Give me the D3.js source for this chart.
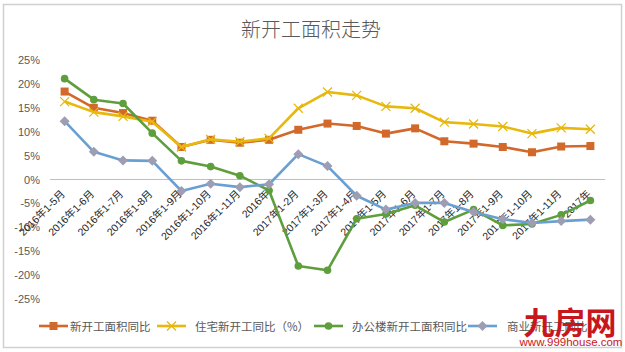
<!DOCTYPE html>
<html><head><meta charset="utf-8">
<script src="https://cdn.jsdelivr.net/npm/d3@7"></script>
<style>
body{margin:0;background:#fff;}
svg{display:block;}
text{font-family:"Liberation Sans","Noto Sans CJK SC",sans-serif;}
</style></head>
<body>
<svg id="chart" width="625" height="352"></svg>
<script>
const categories = ["2016年1-5月","2016年1-6月","2016年1-7月","2016年1-8月","2016年1-9月","2016年1-10月","2016年1-11月","2016年",
  "2017年1-2月","2017年1-3月","2017年1-4月","2017年1-5月","2017年1-6月","2017年1-7月","2017年1-8月","2017年1-9月","2017年1-10月","2017年1-11月","2017年"];
const newStart     = [18.4,15.0,13.9,12.3,6.8,8.3,7.7,8.3,10.4,11.7,11.2,9.6,10.7,8.0,7.5,6.8,5.7,6.9,7.0];
const residential  = [16.3,14.1,13.2,12.1,6.8,8.4,7.9,8.6,14.9,18.3,17.6,15.3,14.9,12.0,11.6,11.1,9.6,10.8,10.5];
const office       = [21.1,16.7,15.9,9.7,3.9,2.7,0.8,-2.3,-18.1,-19.0,-8.2,-7.2,-5.4,-8.9,-6.3,-9.6,-9.3,-7.4,-4.4];
const commercial   = [12.2,5.8,4.0,3.9,-2.4,-0.9,-1.6,-1.0,5.3,2.8,-3.4,-6.3,-4.9,-4.9,-6.8,-8.3,-9.1,-8.7,-8.4];
const yTicks = [25,20,15,10,5,0,-5,-10,-15,-20,-25];
const seriesNames = ["新开工面积同比","住宅新开工同比（%）","办公楼新开工面积同比","商业新开工同比"];
const title = "新开工面积走势";

const series = [
  {name:seriesNames[0], values:newStart, color:"#D2692A", marker:"square"},
  {name:seriesNames[1], values:residential, color:"#E8B80C", marker:"x"},
  {name:seriesNames[2], values:office, color:"#5E9E3C", marker:"circle"},
  {name:seriesNames[3], values:commercial, color:"#6A9FD2", marker:"diamond", markerColor:"#9D9DB3"}
];

const svg = d3.select("#chart");
svg.append("rect").attr("x",3.5).attr("y",4.5).attr("width",618).attr("height",343)
  .attr("fill","#fff").attr("stroke","#d0d0d0").attr("stroke-width",1.5);

svg.append("text").attr("x",311).attr("y",37).attr("text-anchor","middle")
  .attr("font-size",20).attr("fill","#595959")
  .style("font-family","'Noto Sans CJK SC',sans-serif").style("font-weight",300).text(title);

const x = d3.scaleBand().domain(categories).range([50,605]);
const y = d3.scaleLinear().domain([-25,25]).range([299,60]);
const cx = d => x(d) + x.bandwidth()/2;

const yAxis = d3.axisLeft(y).tickValues(yTicks).tickFormat(d => d + "%").tickSize(0).tickPadding(0);
const gy = svg.append("g").attr("transform","translate(40,0)").call(yAxis);
gy.select(".domain").remove();
gy.selectAll("text").attr("font-size",11).attr("fill","#595959")
  .style("font-family","'Liberation Sans',sans-serif");

svg.append("line").attr("x1",50).attr("x2",605).attr("y1",y(0)).attr("y2",y(0))
  .attr("stroke","#bfbfbf").attr("stroke-width",1.2);

svg.append("g").selectAll("text").data(categories).join("text")
  .attr("transform", d => `translate(${cx(d)+1},${y(0)+15}) rotate(-45)`)
  .attr("text-anchor","end").attr("font-size",10.5).attr("fill","#262626")
  .style("font-family","'Liberation Sans','Noto Sans CJK SC',sans-serif")
  .text(d => d);

function drawMarker(g, type, px, py, color){
  if(type==="square"){
    g.append("rect").attr("x",px-4).attr("y",py-4).attr("width",8).attr("height",8).attr("fill",color);
  } else if(type==="x"){
    g.append("path").attr("d",`M${px-4.5},${py-4.5}L${px+4.5},${py+4.5}M${px-4.5},${py+4.5}L${px+4.5},${py-4.5}`)
      .attr("stroke",color).attr("stroke-width",1.3);
  } else if(type==="circle"){
    g.append("circle").attr("cx",px).attr("cy",py).attr("r",3.8).attr("fill",color);
  } else if(type==="diamond"){
    g.append("path").attr("d",`M${px},${py-5}L${px+5},${py}L${px},${py+5}L${px-5},${py}Z`).attr("fill",color);
  }
}

const line = d3.line().x((v,i)=>cx(categories[i])).y(v=>y(v));
series.forEach(s=>{
  const g = svg.append("g");
  g.append("path").attr("d",line(s.values)).attr("fill","none")
    .attr("stroke",s.color).attr("stroke-width",2.6).attr("stroke-linejoin","round");
  s.values.forEach((v,i)=>drawMarker(g,s.marker,cx(categories[i]),y(v),s.markerColor||s.color));
});

const legendPos = [{lx:39,tx:70},{lx:157,tx:195},{lx:314,tx:352},{lx:468,tx:507}];
const ly = 326;
series.forEach((s,i)=>{
  const g = svg.append("g");
  const p = legendPos[i];
  g.append("line").attr("x1",p.lx).attr("x2",p.lx+29).attr("y1",ly).attr("y2",ly)
    .attr("stroke",s.color).attr("stroke-width",2.6);
  drawMarker(g,s.marker,p.lx+14.5,ly,s.markerColor||s.color);
  g.append("text").attr("x",p.tx).attr("y",ly+4.5).attr("font-size",11.5).attr("fill","#595959")
    .style("font-family","'Noto Sans CJK SC',sans-serif").text(s.name);
});

svg.append("text").attr("x",570).attr("y",334).attr("text-anchor","middle")
  .attr("font-size",31).attr("fill","#C8161D").attr("font-weight","bold")
  .style("font-family","'Noto Sans CJK SC',sans-serif").text("九房网");
svg.append("text").attr("x",571).attr("y",346).attr("text-anchor","middle")
  .attr("font-size",11.5).attr("fill","#C8161D")
  .style("font-family","'Liberation Sans',sans-serif").text("www.999house.com");
</script>
</body></html>
